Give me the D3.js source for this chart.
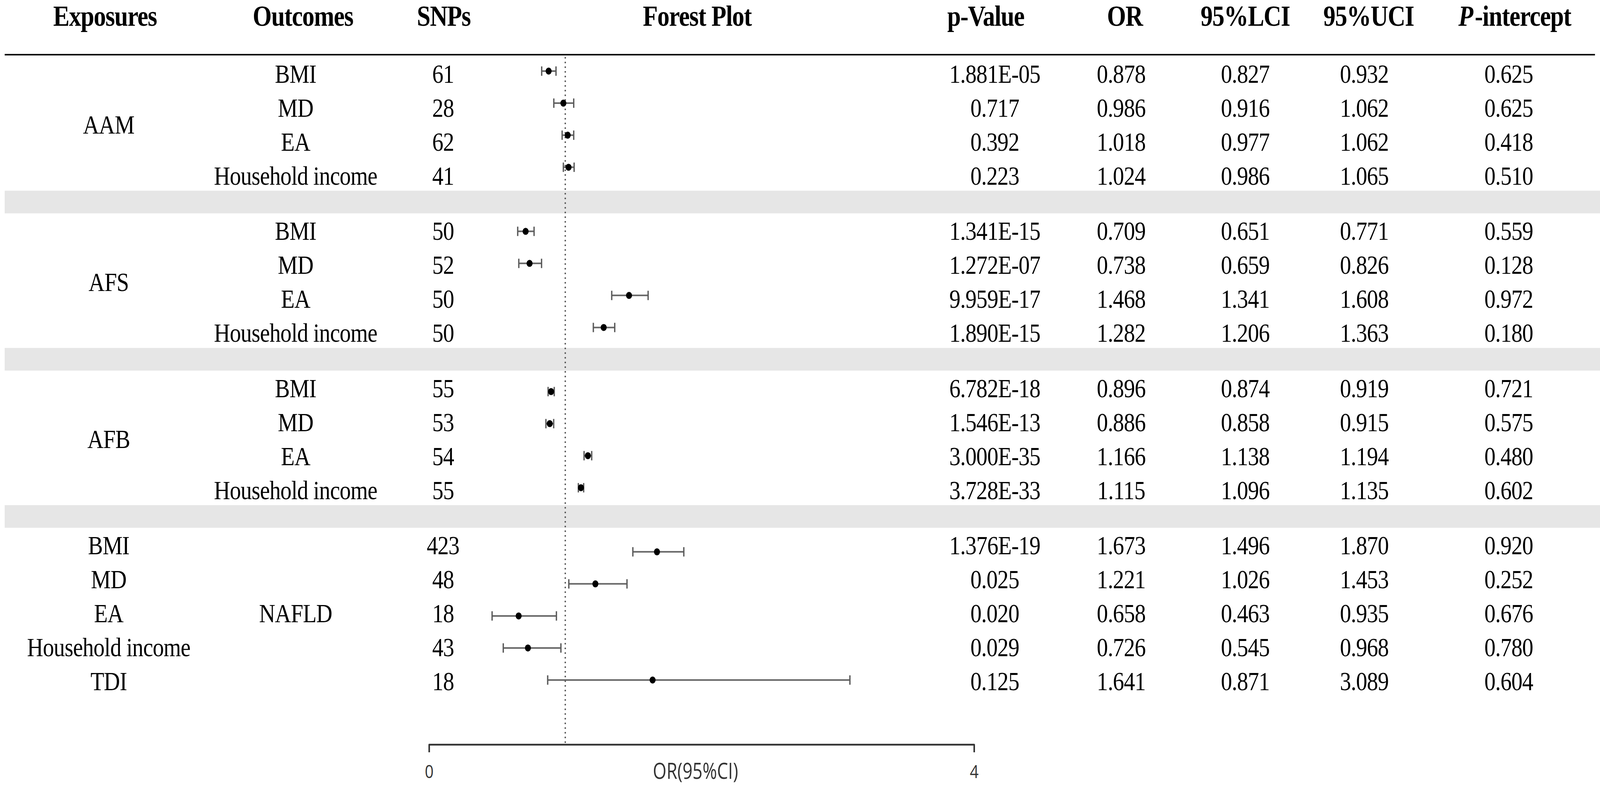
<!DOCTYPE html>
<html>
<head>
<meta charset="utf-8">
<script src="https://cdn.jsdelivr.net/npm/d3@7"></script>
<style>
  html, body { margin: 0; padding: 0; background: #ffffff; overflow: hidden; width: 100%; height: 100%; }
  svg { display: block; width: 100vw; height: 100vh; }
</style>
</head>
<body>
<svg id="chart" viewBox="0 0 4785 2020" preserveAspectRatio="none"></svg>
<script>
// ---------------- DATA ----------------
const groupLabels   = ["AAM", "AFS", "AFB", "NAFLD"];
const groupLabelCol = ["exposure", "exposure", "exposure", "outcome"];
const groupSizes    = [4, 4, 4, 5];
const rowLabels = [
  "BMI", "MD", "EA", "Household income",
  "BMI", "MD", "EA", "Household income",
  "BMI", "MD", "EA", "Household income",
  "BMI", "MD", "EA", "Household income", "TDI"
];
const snps = [61, 28, 62, 41, 50, 52, 50, 50, 55, 53, 54, 55, 423, 48, 18, 43, 18];
const pValues = [
  "1.881E-05", "0.717", "0.392", "0.223",
  "1.341E-15", "1.272E-07", "9.959E-17", "1.890E-15",
  "6.782E-18", "1.546E-13", "3.000E-35", "3.728E-33",
  "1.376E-19", "0.025", "0.020", "0.029", "0.125"
];
const orValues = [0.878, 0.986, 1.018, 1.024, 0.709, 0.738, 1.468, 1.282,
                  0.896, 0.886, 1.166, 1.115, 1.673, 1.221, 0.658, 0.726, 1.641];
const lciValues = [0.827, 0.916, 0.977, 0.986, 0.651, 0.659, 1.341, 1.206,
                   0.874, 0.858, 1.138, 1.096, 1.496, 1.026, 0.463, 0.545, 0.871];
const uciValues = [0.932, 1.062, 1.062, 1.065, 0.771, 0.826, 1.608, 1.363,
                   0.919, 0.915, 1.194, 1.135, 1.870, 1.453, 0.935, 0.968, 3.089];
const pIntercept = ["0.625", "0.625", "0.418", "0.510", "0.559", "0.128", "0.972", "0.180",
                    "0.721", "0.575", "0.480", "0.602", "0.920", "0.252", "0.676", "0.780", "0.604"];
const headers = ["Exposures", "Outcomes", "SNPs", "Forest Plot", "p-Value", "OR", "95%LCI", "95%UCI", "P-intercept"];
const axisTicks = [0, 4];
const axisTitle = "OR(95%CI)";
const refValue = 1;

// ---------------- LAYOUT ----------------
const W = 4785, H = 2020;
const serif = "'Liberation Serif', 'Times New Roman', serif";
const sans = "'Open Sans', 'Noto Sans', sans-serif";

const svg = d3.select("#chart");
svg.append("rect").attr("width", W).attr("height", H).attr("fill", "#fff");

// build rows with group & index info
const rows = [];
let gi = 0, cnt = 0;
rowLabels.forEach((lab, i) => {
  if (cnt >= groupSizes[gi]) { gi++; cnt = 0; }
  rows.push({
    i, g: gi, label: lab, snp: snps[i], p: pValues[i],
    or: orValues[i], lci: lciValues[i], uci: uciValues[i], pint: pIntercept[i]
  });
  cnt++;
});

// scales
const x = d3.scaleLinear().domain([0, 4]).range([1283, 2913]);
const groupGap = 0.6264;
const yTable = d3.scaleLinear().domain([0, 1]).range([190, 277]);   // text rows
const tIndex = r => r.i + r.g * groupGap;
const yForest = d3.scaleLinear().domain([0, 19]).range([182, 1741]); // forest slots
const kIndex = r => r.i + r.g;

const colX = {
  exposure: 325, outcome: 884, snp: 1325, p: 2975, or: 3353, lci: 3724, uci: 4080, pint: 4512
};
const headX = [314, 906, 1327, 2085, 2948, 3364, 3724, 4093, 4530];

// gray separator bands
const bandH = 58;
for (let g = 0; g < groupSizes.length - 1; g++) {
  const last = rows.filter(r => r.g === g).slice(-1)[0];
  const first = rows.filter(r => r.g === g + 1)[0];
  const c = (yTable(tIndex(last)) + yTable(tIndex(first))) / 2 - 4.5;
  svg.append("rect")
    .attr("x", 14).attr("y", c - bandH / 2)
    .attr("width", W - 14).attr("height", bandH)
    .attr("fill", "#e6e6e6");
}

// top rule
svg.append("line")
  .attr("x1", 14).attr("x2", 4770).attr("y1", 140).attr("y2", 140)
  .attr("stroke", "#111").attr("stroke-width", 4);

// headers
const hdr = svg.append("g")
  .attr("font-family", serif).attr("font-weight", "bold")
  .attr("font-size", 73).attr("letter-spacing", -1.5)
  .attr("text-anchor", "middle").attr("fill", "#000");
headers.forEach((h, j) => {
  const t = hdr.append("text").attr("x", headX[j]).attr("y", 66);
  if (h === "P-intercept") {
    t.append("tspan").attr("font-style", "italic").text("P");
    t.append("tspan").attr("dx", 6).text("-intercept");
  } else {
    t.text(h);
  }
});

// table body text
const body = svg.append("g")
  .attr("font-family", serif).attr("font-size", 67).attr("letter-spacing", -1)
  .attr("text-anchor", "middle").attr("fill", "#000");
const base = r => yTable(tIndex(r)) + 22;
const fmt3 = d3.format(".3f");

rows.forEach(r => {
  const rowCol = groupLabelCol[r.g] === "exposure" ? "outcome" : "exposure";
  body.append("text").attr("x", colX[rowCol]).attr("y", base(r)).text(r.label);
  body.append("text").attr("x", colX.snp).attr("y", base(r)).text(r.snp);
  body.append("text").attr("x", colX.p).attr("y", base(r)).text(r.p);
  body.append("text").attr("x", colX.or).attr("y", base(r)).text(fmt3(r.or));
  body.append("text").attr("x", colX.lci).attr("y", base(r)).text(fmt3(r.lci));
  body.append("text").attr("x", colX.uci).attr("y", base(r)).text(fmt3(r.uci));
  body.append("text").attr("x", colX.pint).attr("y", base(r)).text(r.pint);
});

// group labels, centred on their group's rows
groupLabels.forEach((lab, g) => {
  const gr = rows.filter(r => r.g === g);
  const mid = (base(gr[0]) + base(gr[gr.length - 1])) / 2;
  body.append("text").attr("x", colX[groupLabelCol[g]]).attr("y", mid).text(lab);
});

// ---------------- FOREST PLOT ----------------
const axisY = 1906;

// reference (dotted) line at OR = 1
svg.append("line")
  .attr("x1", x(refValue)).attr("x2", x(refValue))
  .attr("y1", 148).attr("y2", axisY - 4)
  .attr("stroke", "#555").attr("stroke-width", 4.5)
  .attr("stroke-dasharray", "0 12").attr("stroke-linecap", "round");

const fp = svg.append("g");
const capH = 24;
rows.forEach(r => {
  const yy = yForest(kIndex(r));
  fp.append("line")
    .attr("x1", x(r.lci)).attr("x2", x(r.uci)).attr("y1", yy).attr("y2", yy)
    .attr("stroke", "#666").attr("stroke-width", 4);
  [r.lci, r.uci].forEach(v => {
    fp.append("line")
      .attr("x1", x(v)).attr("x2", x(v))
      .attr("y1", yy - capH / 2).attr("y2", yy + capH / 2)
      .attr("stroke", "#5a5a5a").attr("stroke-width", 4);
  });
  fp.append("circle").attr("cx", x(r.or)).attr("cy", yy).attr("r", 9).attr("fill", "#000");
});

// axis
const axis = d3.axisBottom(x).tickValues(axisTicks).tickSize(20).tickSizeOuter(20)
  .tickPadding(33).tickFormat(d3.format("d"));
const ax = svg.append("g").attr("transform", `translate(0,${axisY})`).call(axis);
ax.select(".domain").attr("stroke", "#333").attr("stroke-width", 4.5).attr("stroke-linejoin", "round");
ax.selectAll(".tick line").attr("stroke", "#333").attr("stroke-width", 4);
ax.selectAll(".tick text").attr("font-family", sans).attr("font-size", 46).attr("fill", "#333");

svg.append("text")
  .attr("x", (x(0) + x(4)) / 2 - 18).attr("y", 1994)
  .attr("text-anchor", "middle")
  .attr("font-family", sans).attr("font-size", 56).attr("fill", "#333")
  .attr("textLength", 255).attr("lengthAdjust", "spacingAndGlyphs")
  .text(axisTitle);
</script>
</body>
</html>
